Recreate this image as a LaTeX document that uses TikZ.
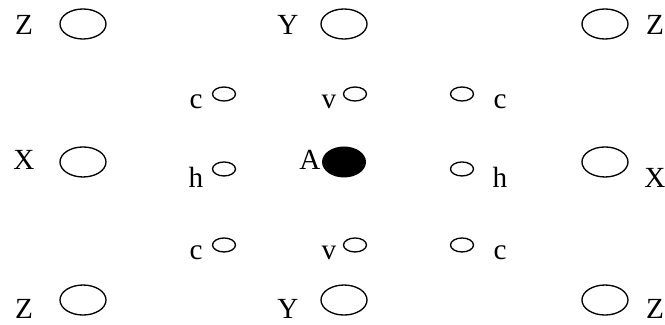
\documentclass[tikz,border=0pt]{standalone}
\usepackage{fontspec}
\setmainfont{Liberation Serif}
\begin{document}
\begin{tikzpicture}[font=\fontsize{22}{26}\selectfont, line width=1pt,
  lab/.style={anchor=base, inner sep=0pt}]
\useasboundingbox (0, 0) rectangle (17.595, 8.599);
% siti grandi
\draw (2.196, 7.964) ellipse (0.609 and 0.397);
\draw (9.102, 7.964) ellipse (0.609 and 0.397);
\draw (16.007, 7.964) ellipse (0.609 and 0.397);
\draw (2.196, 4.313) ellipse (0.609 and 0.397);
\draw (16.007, 4.313) ellipse (0.609 and 0.397);
\draw (2.196, 0.661) ellipse (0.609 and 0.397);
\draw (9.102, 0.661) ellipse (0.609 and 0.397);
\draw (16.007, 0.661) ellipse (0.609 and 0.397);
% sito centrale
\fill (9.102, 4.313) ellipse (0.582 and 0.41);
% siti piccoli
\draw (5.927, 6.112) ellipse (0.304 and 0.185);
\draw (9.393, 6.112) ellipse (0.304 and 0.185);
\draw (12.224, 6.112) ellipse (0.304 and 0.185);
\draw (5.927, 4.128) ellipse (0.304 and 0.185);
\draw (12.224, 4.128) ellipse (0.304 and 0.185);
\draw (5.927, 2.117) ellipse (0.304 and 0.185);
\draw (9.393, 2.117) ellipse (0.304 and 0.185);
\draw (12.224, 2.117) ellipse (0.304 and 0.185);
% etichette
\node[lab] (zNO) at (0.635, 7.673) {Z};
\node[lab] (yN) at (7.62, 7.673) {Y};
\node[lab] (zNE) at (17.33, 7.673) {Z};
\node[lab] (cNO) at (5.186, 5.715) {c};
\node[lab] (vN) at (8.705, 5.715) {v};
\node[lab] (cNE) at (13.229, 5.715) {c};
\node[lab] (xO) at (0.635, 4.101) {X};
\node[lab] (a) at (8.202, 4.101) {A};
\node[lab] (hO) at (5.186, 3.651) {h};
\node[lab] (hE) at (13.229, 3.651) {h};
\node[lab] (xE) at (17.33, 3.651) {X};
\node[lab] (cSO) at (5.186, 1.746) {c};
\node[lab] (vS) at (8.705, 1.746) {v};
\node[lab] (cSE) at (13.229, 1.746) {c};
\node[lab] (zSO) at (0.635, 0.16) {Z};
\node[lab] (yS) at (7.62, 0.16) {Y};
\node[lab] (zSE) at (17.33, 0.16) {Z};
\end{tikzpicture}
\end{document}
